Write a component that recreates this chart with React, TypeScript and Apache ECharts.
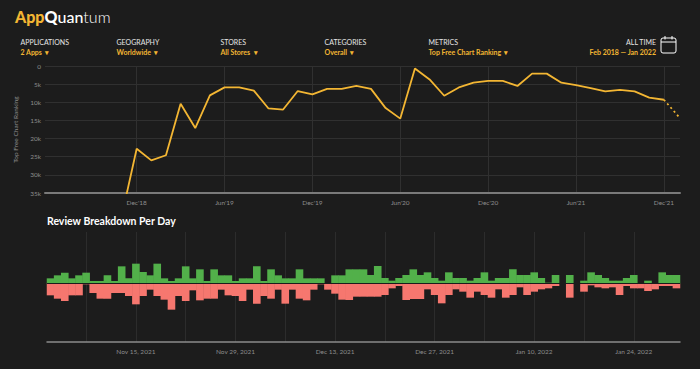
import { useEffect, useRef } from "react";
import * as echarts from "echarts";

// ---------- Top chart: Top Free Chart Ranking (monthly) ----------
const rankMonths = [
  "2018-11", "2018-12",
  "2019-01", "2019-02", "2019-03", "2019-04", "2019-05", "2019-06",
  "2019-07", "2019-08", "2019-09", "2019-10", "2019-11", "2019-12",
  "2020-01", "2020-02", "2020-03", "2020-04", "2020-05", "2020-06",
  "2020-07", "2020-08", "2020-09", "2020-10", "2020-11", "2020-12",
  "2021-01", "2021-02", "2021-03", "2021-04", "2021-05", "2021-06",
  "2021-07", "2021-08", "2021-09", "2021-10", "2021-11", "2021-12",
  "2022-01",
];
const rankValues = [
  41000, 22800,
  26000, 24600, 10400, 17100, 8100, 5900,
  5900, 6800, 11700, 12000, 6900, 7800,
  6300, 6300, 5500, 6300, 11600, 14500,
  700, 3700, 8200, 5900, 4600, 4100,
  4100, 5500, 2100, 2100, 4600, 5300,
  6100, 7000, 6600, 7000, 8700, 9300,
  13900,
];
const rankTickMonths = ["2018-12", "2019-06", "2019-12", "2020-06", "2020-12", "2021-06", "2021-12"];
const rankTickLabels = ["Dec'18", "Jun'19", "Dec'19", "Jun'20", "Dec'20", "Jun'21", "Dec'21"];
const rankAxisStart = "2018-06"; // visible range start (approx. mid-June 2018)
const rankAxisEnd = "2022-01";

// ---------- Bottom chart: Review Breakdown Per Day ----------
const reviewStartDate = "2021-11-03";
const positiveReviews: (number | null)[] = [
  16, 25, 33, 16, 25, 33, 8, 8, 25, 8, 52, 16, 60, 35, 25, 60, 16, 8, 16, 52,
  16, 43, 8, 43, 25, 25, 8, 16, 16, 52, 8, 43, 25, 16, 16, 43, 16, 16, 16, 0,
  25, 25, 43,
  43, 43, 26, 53, 17, 9, 17, 26, 43, 26, 34, 17, 9, 34, 17, 17, 9, 17, 34, 9,
  17, 17, 43, 26, 26, 34, 17, 3, 26, null, 26, null, 9, 34, 26, 17, 9, 9, 17, 26,
  2, 9, 2, 34, 26, 26,
];
const negativeReviews: (number | null)[] = [
  35, 45, 52, 35, 35, 2, 28, 45, 45, 28, 28, 37, 62, 37, 18, 37, 48, 78, 37, 52,
  20, 50, 45, 45, 18, 35, 37, 52, 18, 60, 37, 45, 18, 60, 18, 45, 50, 18, 2, 18,
  30, 48, 49,
  39, 39, 39, 39, 34, 14, 7, 49, 46, 46, 17, 34, 59, 34, 17, 24, 42, 24, 34, 42,
  17, 42, 34, 11, 34, 24, 17, 14, 7, null, 42, null, 24, 5, 11, 14, 11, 34, 7, 14,
  14, 22, 17, 7, 7, 14,
];
const reviewTickDates = ["2021-11-15", "2021-11-29", "2021-12-13", "2021-12-27", "2022-01-10", "2022-01-24"];
const monthNames = ["Jan", "Feb", "Mar", "Apr", "May", "Jun", "Jul", "Aug", "Sep", "Oct", "Nov", "Dec"];

// ---------- Header ----------
const filterTitles = ["APPLICATIONS", "GEOGRAPHY", "STORES", "CATEGORIES", "METRICS"];
const filterValues = ["2 Apps", "Worldwide", "All Stores", "Overall", "Top Free Chart Ranking"];
const filterX = [20.5, 116.5, 220.5, 324.5, 428.5];

const monthIndex = (s: string) => (Number(s.slice(0, 4)) - 2018) * 12 + Number(s.slice(5, 7)) - 1;
const dayIndex = (s: string) =>
  Math.round((Date.parse(s + "T00:00:00Z") - Date.parse(reviewStartDate + "T00:00:00Z")) / 86400000);
const fmtDay = (s: string) => {
  const d = new Date(s + "T00:00:00Z");
  return `${monthNames[d.getUTCMonth()]} ${d.getUTCDate()}, ${d.getUTCFullYear()}`;
};

const YELLOW = "#f3b633";
const GREEN = "#52b04a";
const RED = "#f6776f";
const BG = "#1c1c1c";
const FONT = "Lato, 'Open Sans', sans-serif";
const W = 700;
const BOTTOM_LEFT = 47;
const BOTTOM_RIGHT = 20;

export default function App() {
  const ref = useRef<HTMLDivElement>(null);
  useEffect(() => {
    if (!ref.current) return;
    const chart = echarts.init(ref.current, undefined, { renderer: "svg" });

    const rankPts = rankMonths.map((m, i) => [monthIndex(m), rankValues[i]]);
    const solidPts = rankPts.slice(0, rankPts.length - 1);
    const dottedPts = rankPts.slice(rankPts.length - 2);
    const rankTickVals = rankTickMonths.map(monthIndex);

    const nDays = positiveReviews.length;
    const reviewTickVals = reviewTickDates.map(dayIndex);
    const weekVals: number[] = [];
    for (let d = 0; d < nDays; d++) if ((d - reviewTickVals[0]) % 7 === 0) weekVals.push(d);
    const posData = positiveReviews.map((v, i) => [i, v]).filter((p) => p[1] !== null);
    const negData = negativeReviews.map((v, i) => [i, v === null ? null : -v]).filter((p) => p[1] !== null);
    // slightly wider than one day so adjacent bars merge into a continuous step shape
    const barW = (W - BOTTOM_LEFT - BOTTOM_RIGHT) / nDays + 0.5;

    const graphics: any[] = [
      {
        type: "text",
        x: 15,
        y: 16,
        style: {
          text: "{a|App}{q|Q}{u|uan}{t|tum}",
          verticalAlign: "middle",
          rich: {
            a: { fill: YELLOW, fontSize: 16, fontWeight: 900, fontFamily: FONT },
            q: { fill: "#ffffff", fontSize: 16, fontWeight: 900, fontFamily: FONT },
            u: { fill: "#ffffff", fontSize: 16, fontWeight: 500, fontFamily: FONT },
            t: { fill: "#ffffff", fontSize: 16, fontWeight: 300, fontFamily: FONT },
          },
        },
      },
      {
        type: "text",
        x: 47,
        y: 221,
        style: {
          text: "Review Breakdown Per Day",
          fill: "#ffffff",
          fontSize: 10.5,
          fontWeight: "bold",
          fontFamily: FONT,
          verticalAlign: "middle",
        },
      },
      {
        type: "text",
        x: 656,
        y: 41.5,
        style: { text: "ALL TIME", fill: "#e6e6e6", fontSize: 7, fontFamily: FONT, align: "right", verticalAlign: "middle" },
      },
      {
        type: "text",
        x: 656,
        y: 51.5,
        style: {
          text: "Feb 2018 — Jan 2022",
          fill: YELLOW,
          fontSize: 7,
          fontWeight: "bold",
          fontFamily: FONT,
          align: "right",
          verticalAlign: "middle",
        },
      },
      {
        type: "rect",
        shape: { x: 661, y: 38, width: 15, height: 15, r: 2 },
        style: { fill: "none", stroke: "#ffffff", lineWidth: 1 },
      },
      { type: "line", shape: { x1: 661, y1: 42, x2: 676, y2: 42 }, style: { stroke: "#ffffff", lineWidth: 1 } },
      { type: "line", shape: { x1: 665, y1: 36, x2: 665, y2: 39.5 }, style: { stroke: "#ffffff", lineWidth: 1 } },
      { type: "line", shape: { x1: 672, y1: 36, x2: 672, y2: 39.5 }, style: { stroke: "#ffffff", lineWidth: 1 } },
    ];
    filterTitles.forEach((t, i) => {
      graphics.push({
        type: "text",
        x: filterX[i],
        y: 41.5,
        style: { text: t, fill: "#e6e6e6", fontSize: 7, fontFamily: FONT, verticalAlign: "middle" },
      });
      graphics.push({
        type: "text",
        x: filterX[i],
        y: 51.5,
        style: {
          text: filterValues[i] + "  ▾",
          fill: YELLOW,
          fontSize: 7,
          fontWeight: "bold",
          fontFamily: FONT,
          verticalAlign: "middle",
        },
      });
    });

    const axisLabelStyle = { color: "#8c8c8c", fontSize: 6.5, fontFamily: FONT };

    chart.setOption({
      animation: false,
      backgroundColor: BG,
      textStyle: { fontFamily: FONT },
      graphic: graphics,
      grid: [
        { left: 45, right: 20, top: 66, height: 127 },
        { left: BOTTOM_LEFT, right: BOTTOM_RIGHT, top: 232, height: 110 },
      ],
      xAxis: [
        {
          type: "value",
          gridIndex: 0,
          position: "bottom",
          min: monthIndex(rankAxisStart) - 0.26,
          max: monthIndex(rankAxisEnd) + 0.1,
          axisLine: { show: true, onZero: false, lineStyle: { color: "#7a7a7a", width: 2 } },
          axisTick: { show: false, customValues: rankTickVals },
          axisLabel: {
            ...axisLabelStyle,
            margin: 6,
            customValues: rankTickVals,
            formatter: (v: number) => rankTickLabels[rankTickVals.indexOf(Math.round(v))] ?? "",
          },
          splitLine: { show: true, lineStyle: { color: "#303030", width: 1 } },
        },
        {
          type: "value",
          gridIndex: 1,
          position: "bottom",
          min: -0.5,
          max: nDays - 0.5,
          axisLine: { show: true, onZero: false, lineStyle: { color: "#8a8a8a", width: 1.5 } },
          axisTick: { show: false, customValues: weekVals },
          axisLabel: {
            ...axisLabelStyle,
            margin: 6,
            customValues: reviewTickVals,
            formatter: (v: number) => {
              const k = reviewTickVals.indexOf(Math.round(v));
              return k >= 0 ? fmtDay(reviewTickDates[k]) : "";
            },
          },
          splitLine: { show: true, lineStyle: { color: "#2c2c2c", width: 1 } },
        },
      ],
      yAxis: [
        {
          type: "value",
          gridIndex: 0,
          inverse: true,
          min: 0,
          max: 35000,
          interval: 5000,
          axisLine: { show: false },
          axisTick: { show: false },
          axisLabel: {
            ...axisLabelStyle,
            margin: 4,
            formatter: (v: number) => (v === 0 ? "0" : v / 1000 + "k"),
          },
          splitLine: { show: true, lineStyle: { color: "#303030", width: 1 } },
          name: "Top Free Chart Ranking",
          nameLocation: "middle",
          nameRotate: 90,
          nameGap: 21,
          nameTextStyle: { color: "#8c8c8c", fontSize: 6.5, fontFamily: FONT },
        },
        {
          type: "value",
          gridIndex: 1,
          min: -175,
          max: 155,
          show: false,
          splitLine: { show: false },
        },
      ],
      series: [
        {
          type: "line",
          xAxisIndex: 0,
          yAxisIndex: 0,
          data: solidPts,
          showSymbol: false,
          clip: true,
          lineStyle: { color: YELLOW, width: 1.8 },
        },
        {
          type: "line",
          xAxisIndex: 0,
          yAxisIndex: 0,
          data: dottedPts,
          showSymbol: false,
          clip: true,
          lineStyle: { color: YELLOW, width: 1.8, type: [2, 3] },
        },
        {
          type: "bar",
          xAxisIndex: 1,
          yAxisIndex: 1,
          data: posData,
          barWidth: barW,
          barGap: "-100%",
          itemStyle: { color: GREEN },
        },
        {
          type: "bar",
          xAxisIndex: 1,
          yAxisIndex: 1,
          data: negData,
          barWidth: barW,
          barGap: "-100%",
          itemStyle: { color: RED },
          markLine: {
            silent: true,
            symbol: "none",
            label: { show: false },
            lineStyle: { color: BG, width: 1, type: "solid" },
            data: [{ yAxis: 0 }],
          },
        },
      ],
    });
    return () => chart.dispose();
  }, []);
  return (
    <div
      ref={ref}
      style={{ position: "absolute", left: 0, top: 0, width: W, height: 369, background: BG }}
    />
  );
}
